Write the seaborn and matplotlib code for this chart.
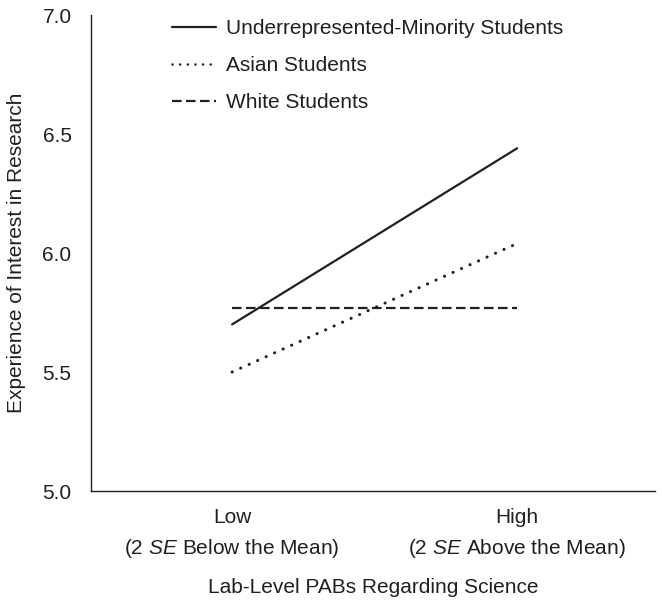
import pandas as pd
import matplotlib
matplotlib.use("Agg")
import matplotlib.pyplot as plt
import seaborn as sns

# Data
levels = ["Low", "High"]
tick_labels = ["Low\n(2 $\\mathit{SE}$ Below the Mean)", "High\n(2 $\\mathit{SE}$ Above the Mean)"]
groups = ["Underrepresented-Minority Students", "Asian Students", "White Students"]
urm_vals = [5.70, 6.44]
asian_vals = [5.50, 6.04]
white_vals = [5.77, 5.77]

df = pd.DataFrame({
    "Level": levels * 3,
    "Interest": urm_vals + asian_vals + white_vals,
    "Group": [g for g in groups for _ in levels],
})

sns.set_theme(style="white")
plt.rcParams["font.family"] = ["Liberation Sans Narrow", "Liberation Sans", "DejaVu Sans"]
plt.rcParams["mathtext.fontset"] = "custom"
plt.rcParams["mathtext.rm"] = "Liberation Sans"
plt.rcParams["mathtext.it"] = "Liberation Sans:italic"

ink = "#231f20"
fig = plt.figure(figsize=(6.62, 6.08), dpi=100)
ax = fig.add_axes([0.1375, 0.1924, 0.852, 0.7829])

dashes = {groups[0]: "", groups[1]: (0.05, 3.0), groups[2]: (4.3, 2.0)}
sns.lineplot(data=df, x="Level", y="Interest", style="Group", style_order=groups,
             dashes=dashes, color=ink, linewidth=1.6, ax=ax, sort=False)

# rounder, heavier dots for the Asian line
ax.lines[1].set_dash_capstyle("round")
ax.lines[1].set_linewidth(2.2)

ax.set_xlim(-0.495, 1.484)
ax.set_ylim(5.0, 7.0)
ax.set_yticks([5.0, 5.5, 6.0, 6.5, 7.0])
ax.set_yticklabels(["5.0", "5.5", "6.0", "6.5", "7.0"])
ax.set_xticks([0, 1])
ax.set_xticklabels(tick_labels, linespacing=1.6)
ax.tick_params(axis="both", length=0, labelsize=15, colors=ink)
ax.tick_params(axis="x", pad=12)
ax.tick_params(axis="y", pad=14)

for side in ["top", "right"]:
    ax.spines[side].set_visible(False)
for side in ["left", "bottom"]:
    ax.spines[side].set_color(ink)
    ax.spines[side].set_linewidth(1.0)

ax.set_xlabel("Lab-Level PABs Regarding Science", fontsize=15, color=ink, labelpad=13)
ax.set_ylabel("Experience of Interest in Research", fontsize=15, color=ink, labelpad=12)

leg = ax.legend(loc="upper left", bbox_to_anchor=(0.11, 1.03), frameon=False,
                fontsize=15, handlelength=2.1, labelspacing=0.85, handletextpad=0.5)
for line in leg.get_lines():
    line.set_color(ink)
leg.get_lines()[1].set_dash_capstyle("round")
leg.get_lines()[1].set_linewidth(1.8)
for t in leg.get_texts():
    t.set_color(ink)

fig.savefig("out.png", dpi=100)
